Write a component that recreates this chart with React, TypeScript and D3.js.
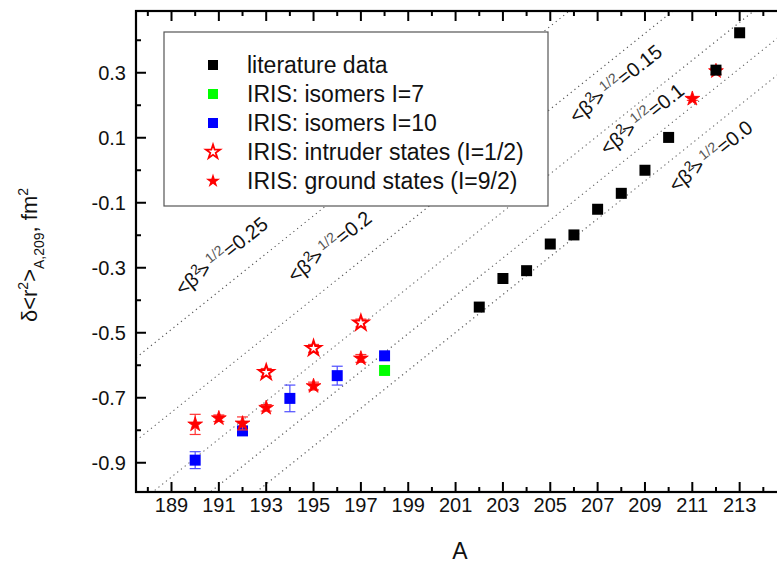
import React from "react";
import * as d3 from "d3";

// ---- data ----
const litA = [202, 203, 204, 205, 206, 207, 208, 209, 210, 212, 213];
const litY = [-0.421, -0.333, -0.309, -0.227, -0.199, -0.12, -0.071, 0.0, 0.101, 0.308, 0.423];

const iso7A = [198];
const iso7Y = [-0.616];

const iso10A = [190, 192, 194, 196, 198];
const iso10Y = [-0.892, -0.802, -0.702, -0.632, -0.571];
const iso10Err = [0.026, 0.01, 0.041, 0.029, 0.0];

const intrA = [193, 195, 197];
const intrY = [-0.622, -0.548, -0.47];
const intrErr = [0.012, 0.012, 0.012];

const gsA = [190, 191, 192, 193, 195, 197, 211, 212];
const gsY = [-0.782, -0.763, -0.779, -0.731, -0.664, -0.579, 0.22, 0.305];
const gsErr = [0.031, 0.01, 0.02, 0.01, 0.012, 0.012, 0.005, 0.01];

// dotted droplet-model lines: value at A=187.5 and at A=215
const betaLabels = ["0.0", "0.1", "0.15", "0.2", "0.25"];
const betaStartY = [-1.286, -1.173, -1.031, -0.832, -0.577];
const betaEndY = [0.317, 0.43, 0.572, 0.771, 1.026];
const betaLabelA = [210.3, 207.4, 206.1, 194.2, 189.45];
const betaLabelY = [-0.07, 0.044, 0.142, -0.348, -0.388];

const xMajor = [189, 191, 193, 195, 197, 199, 201, 203, 205, 207, 209, 211, 213];
const xMinor = [188, 190, 192, 194, 196, 198, 200, 202, 204, 206, 208, 210, 212, 214];
const yMajor = [-0.9, -0.7, -0.5, -0.3, -0.1, 0.1, 0.3];
const yMinor = [-0.8, -0.6, -0.4, -0.2, 0.0, 0.2, 0.4];

const legendItems = [
  "literature data",
  "IRIS: isomers I=7",
  "IRIS: isomers I=10",
  "IRIS: intruder states (I=1/2)",
  "IRIS: ground states (I=9/2)",
];

const W = 777;
const H = 563;
const L = 136, R = 787, T = 11, B = 492;
const FONT = "Arial, 'Liberation Sans', Helvetica, sans-serif";

export default function App() {
  const x = d3.scaleLinear().domain([187.5, 215]).range([L, R]);
  const y = d3.scaleLinear().domain([-0.99, 0.49]).range([B, T]);
  const sq = d3.symbol().type(d3.symbolSquare).size(121)();
  const sqLeg = d3.symbol().type(d3.symbolSquare).size(100)();
  const star = d3.symbol().type(d3.symbolStar).size(68)();
  const starLeg = d3.symbol().type(d3.symbolStar).size(62)();
  const angle = (Math.atan2(y(betaStartY[0]) - y(betaEndY[0]), x(215) - x(187.5)) * 180) / Math.PI;
  const fmt = (v: number) => d3.format(".1f")(v).replace("\u2212", "-");

  const errBar = (a: number, v: number, e: number, color: string, key: string) =>
    e > 0 ? (
      <g key={key} stroke={color} strokeWidth={1.2}>
        <line x1={x(a)} x2={x(a)} y1={y(v - e)} y2={y(v + e)} />
        <line x1={x(a) - 5.5} x2={x(a) + 5.5} y1={y(v - e)} y2={y(v - e)} />
        <line x1={x(a) - 5.5} x2={x(a) + 5.5} y1={y(v + e)} y2={y(v + e)} />
      </g>
    ) : null;

  const legX = 213, legTextX = 247;
  const legRows = [65, 94, 123, 152, 181];

  return (
    <svg width={W} height={H} style={{ position: "absolute", left: 0, top: 0, background: "#fff" }} fontFamily={FONT}>
      <defs>
        <clipPath id="plotclip">
          <rect x={L} y={T} width={R - L} height={B - T} />
        </clipPath>
      </defs>
      <rect x={0} y={0} width={W} height={H} fill="#fff" />

      {/* dotted beta lines */}
      <g clipPath="url(#plotclip)">
        {betaLabels.map((b, i) => (
          <line
            key={"bl" + i}
            x1={x(187.5)}
            y1={y(betaStartY[i])}
            x2={x(215)}
            y2={y(betaEndY[i])}
            stroke="#555"
            strokeWidth={1.1}
            strokeDasharray="1.2 3.6"
          />
        ))}
      </g>

      {/* beta labels */}
      {betaLabels.map((b, i) => (
        <text
          key={"lab" + i}
          transform={`translate(${x(betaLabelA[i])},${y(betaLabelY[i])}) rotate(${-angle})`}
          fontSize={20}
          fill="#111"
        >
          {"<β"}
          <tspan dy={-8} fontSize={14}>2</tspan>
          <tspan dy={8} dx={-3}>{">"}</tspan>
          <tspan dy={-8} dx={2} fontSize={14} fill="#555">{"1/2"}</tspan>
          <tspan dy={8}>{"=" + b}</tspan>
        </text>
      ))}

      {/* legend */}
      <rect x={164} y={32} width={384} height={174} fill="#fff" stroke="#555" strokeWidth={1.2} />
      {legendItems.map((t, i) => (
        <text key={"lt" + i} x={legTextX} y={legRows[i] + 8} fontSize={23} fill="#111">
          {t}
        </text>
      ))}
      <path d={sqLeg} transform={`translate(${legX},${legRows[0]})`} fill="#000" />
      <path d={sqLeg} transform={`translate(${legX},${legRows[1]})`} fill="#00ff00" />
      <path d={sqLeg} transform={`translate(${legX},${legRows[2]})`} fill="#0000ff" />
      <path d={starLeg} transform={`translate(${legX},${legRows[3]})`} fill="#fff" stroke="#ff0000" strokeWidth={1.8} />
      <path d={starLeg} transform={`translate(${legX},${legRows[4]})`} fill="#ff0000" />

      {/* data */}
      <g clipPath="url(#plotclip)">
        {iso10A.map((a, i) => errBar(a, iso10Y[i], iso10Err[i], "#4d4dff", "e10" + i))}
        {iso10A.map((a, i) => (
          <path key={"b" + i} d={sq} transform={`translate(${x(a)},${y(iso10Y[i])})`} fill="#0000ff" />
        ))}
        {iso7A.map((a, i) => (
          <path key={"g" + i} d={sq} transform={`translate(${x(a)},${y(iso7Y[i])})`} fill="#00ff00" />
        ))}
        {intrA.map((a, i) => errBar(a, intrY[i], intrErr[i], "#ff3333", "ei" + i))}
        {intrA.map((a, i) => (
          <path key={"o" + i} d={star} transform={`translate(${x(a)},${y(intrY[i])})`} fill="#fff" stroke="#ff0000" strokeWidth={2} />
        ))}
        {gsA.map((a, i) => errBar(a, gsY[i], gsErr[i], "#ff3333", "eg" + i))}
        {gsA.map((a, i) => (
          <path key={"s" + i} d={star} transform={`translate(${x(a)},${y(gsY[i])})`} fill="#ff0000" stroke="#ff0000" strokeWidth={0.8} />
        ))}
        {litA.map((a, i) => (
          <path key={"k" + i} d={sq} transform={`translate(${x(a)},${y(litY[i])})`} fill="#000" />
        ))}
      </g>

      {/* frame */}
      <rect x={L} y={T} width={R - L} height={B - T} fill="none" stroke="#000" strokeWidth={2.2} />

      {/* ticks */}
      <g stroke="#000" strokeWidth={2}>
        {xMajor.map((v) => (
          <g key={"xm" + v}>
            <line x1={x(v)} x2={x(v)} y1={B} y2={B - 10} />
            <line x1={x(v)} x2={x(v)} y1={T} y2={T + 10} />
          </g>
        ))}
        {xMinor.map((v) => (
          <g key={"xn" + v}>
            <line x1={x(v)} x2={x(v)} y1={B} y2={B - 5} />
            <line x1={x(v)} x2={x(v)} y1={T} y2={T + 5} />
          </g>
        ))}
        {yMajor.map((v) => (
          <g key={"ym" + v}>
            <line x1={L} x2={L + 10} y1={y(v)} y2={y(v)} />
            <line x1={R} x2={R - 10} y1={y(v)} y2={y(v)} />
          </g>
        ))}
        {yMinor.map((v) => (
          <g key={"yn" + v}>
            <line x1={L} x2={L + 5} y1={y(v)} y2={y(v)} />
            <line x1={R} x2={R - 5} y1={y(v)} y2={y(v)} />
          </g>
        ))}
      </g>

      {/* tick labels */}
      {xMajor.map((v) => (
        <text key={"xl" + v} x={x(v)} y={512} textAnchor="middle" fontSize={20} fill="#111">
          {v}
        </text>
      ))}
      {yMajor.map((v) => (
        <text key={"yl" + v} x={126} y={y(v) + 7} textAnchor="end" fontSize={20} fill="#111">
          {fmt(v)}
        </text>
      ))}

      {/* axis titles */}
      <text x={460} y={559} textAnchor="middle" fontSize={23} fill="#111">
        A
      </text>
      <text transform="translate(37,255) rotate(-90)" textAnchor="middle" fontSize={22} fill="#111">
        {"δ<r"}
        <tspan dy={-9} fontSize={14}>2</tspan>
        <tspan dy={9}>{">"}</tspan>
        <tspan dy={7} fontSize={14}>A,209</tspan>
        <tspan dy={-7}>{", fm"}</tspan>
        <tspan dy={-9} fontSize={14}>2</tspan>
      </text>
    </svg>
  );
}
